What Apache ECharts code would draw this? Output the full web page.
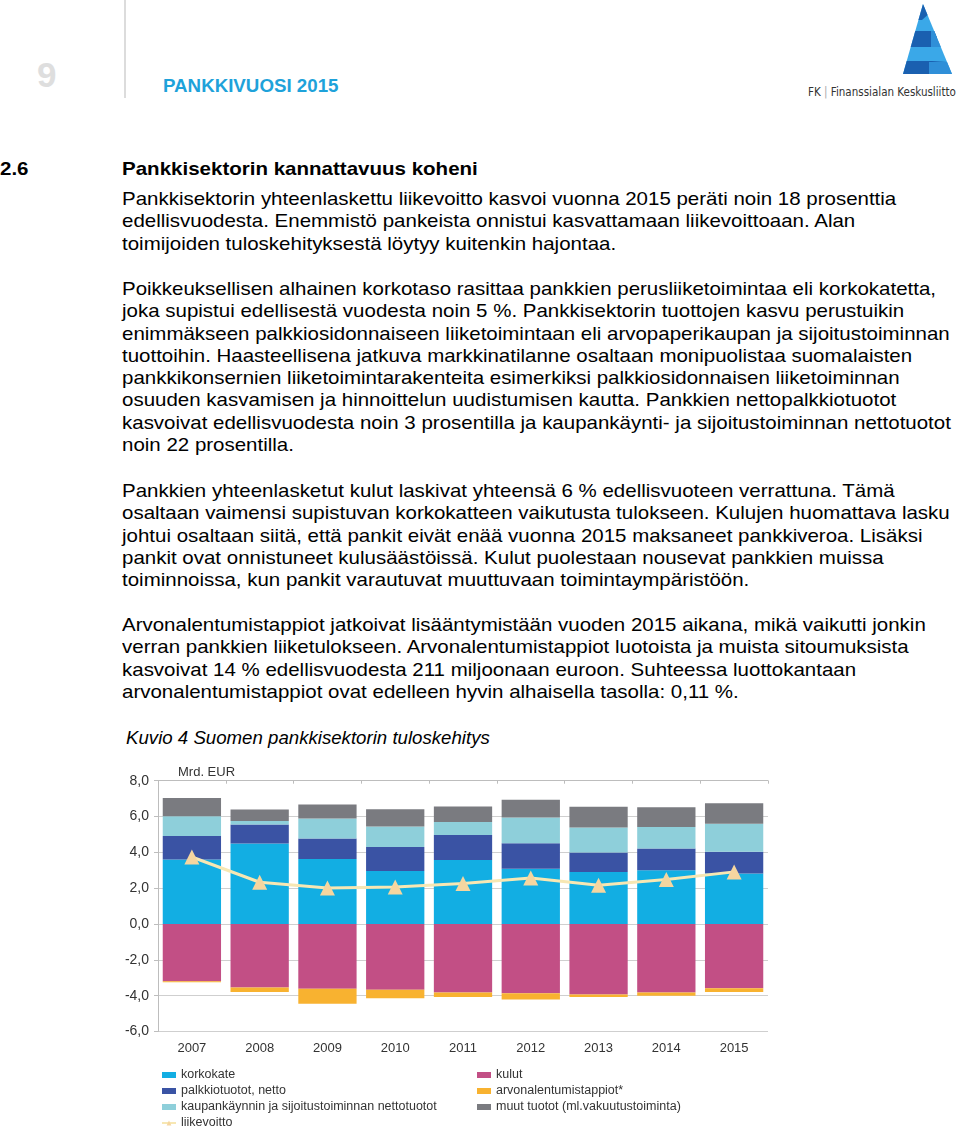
<!DOCTYPE html>
<html>
<head>
<meta charset="utf-8">
<script src="https://cdn.jsdelivr.net/npm/echarts@6/dist/echarts.min.js"></script>
<style>
  html, body { margin: 0; padding: 0; background: #fff; }
  body { width: 960px; height: 1135px; position: relative; overflow: hidden; font-family: "Liberation Sans", Arial, sans-serif; color: #000; }
  .abs { position: absolute; white-space: nowrap; }
  .para { position: absolute; left: 122px; font-size: 19px; line-height: 22.3px; white-space: nowrap; transform: scaleX(1.078); transform-origin: 0 0; }
</style>
</head>
<body>
<div class="abs" style="left:37px; top:55px; font-size:35px; font-weight:bold; color:#dedede;">9</div>
<div class="abs" style="left:124px; top:0; width:2px; height:98px; background:#dcdcdc;"></div>
<div class="abs" style="left:163px; top:76px; font-size:18px; font-weight:bold; color:#1ea2da; transform:scaleX(1.04); transform-origin:0 0;">PANKKIVUOSI 2015</div>
<svg class="abs" style="left:880px; top:0;" width="80" height="80" viewBox="880 0 80 80">
  <defs><clipPath id="tri"><polygon points="923,4 952,74 903,74"/></clipPath></defs>
  <g clip-path="url(#tri)">
    <rect x="880" y="0" width="80" height="80" fill="#3aa8e8"/>
    <polygon points="880,0 923,4 931,12 922,20 880,20" fill="#1a60b0"/>
    <polygon points="880,31 941,31 931,47 880,47" fill="#1a60b0"/>
    <polygon points="880,61 948,61 932,62 929,74 880,74" fill="#1a60b0"/>
    <polygon points="929,62 952,62 952,74 929,74" fill="#2f8fd8"/>
    <polygon points="931,31 945,31 945,47 931,47" fill="#2f8fd8"/>
  </g>
</svg>
<div class="abs" style="left:808px; top:85px; font-size:11.5px; color:#333; font-family:'Liberation Sans Narrow','DejaVu Sans Condensed',sans-serif;">FK<span style="color:#aaa;"> | </span>Finanssialan Keskusliitto</div>

<div class="abs" style="left:0; top:158px; font-size:19px; font-weight:bold; transform:scaleX(1.08); transform-origin:0 0;">2.6</div>
<div class="abs" style="left:122px; top:158px; font-size:19px; font-weight:bold; transform:scaleX(1.08); transform-origin:0 0;">Pankkisektorin kannattavuus koheni</div>

<div class="para" style="top:188px;">Pankkisektorin yhteenlaskettu liikevoitto kasvoi vuonna 2015 peräti noin 18 prosenttia<br>edellisvuodesta. Enemmistö pankeista onnistui kasvattamaan liikevoittoaan. Alan<br>toimijoiden tuloskehityksestä löytyy kuitenkin hajontaa.</div>
<div class="para" style="top:278px;">Poikkeuksellisen alhainen korkotaso rasittaa pankkien perusliiketoimintaa eli korkokatetta,<br>joka supistui edellisestä vuodesta noin 5 %. Pankkisektorin tuottojen kasvu perustuikin<br>enimmäkseen palkkiosidonnaiseen liiketoimintaan eli arvopaperikaupan ja sijoitustoiminnan<br>tuottoihin. Haasteellisena jatkuva markkinatilanne osaltaan monipuolistaa suomalaisten<br>pankkikonsernien liiketoimintarakenteita esimerkiksi palkkiosidonnaisen liiketoiminnan<br>osuuden kasvamisen ja hinnoittelun uudistumisen kautta. Pankkien nettopalkkiotuotot<br>kasvoivat edellisvuodesta noin 3 prosentilla ja kaupankäynti- ja sijoitustoiminnan nettotuotot<br>noin 22 prosentilla.</div>
<div class="para" style="top:480px;">Pankkien yhteenlasketut kulut laskivat yhteensä 6 % edellisvuoteen verrattuna. Tämä<br>osaltaan vaimensi supistuvan korkokatteen vaikutusta tulokseen. Kulujen huomattava lasku<br>johtui osaltaan siitä, että pankit eivät enää vuonna 2015 maksaneet pankkiveroa. Lisäksi<br>pankit ovat onnistuneet kulusäästöissä. Kulut puolestaan nousevat pankkien muissa<br>toiminnoissa, kun pankit varautuvat muuttuvaan toimintaympäristöön.</div>
<div class="para" style="top:614px;">Arvonalentumistappiot jatkoivat lisääntymistään vuoden 2015 aikana, mikä vaikutti jonkin<br>verran pankkien liiketulokseen. Arvonalentumistappiot luotoista ja muista sitoumuksista<br>kasvoivat 14 % edellisvuodesta 211 miljoonaan euroon. Suhteessa luottokantaan<br>arvonalentumistappiot ovat edelleen hyvin alhaisella tasolla: 0,11 %.</div>
<div class="abs" style="left:126px; top:728px; font-size:18px; font-style:italic; transform:scaleX(1.036); transform-origin:0 0;">Kuvio 4 Suomen pankkisektorin tuloskehitys</div>

<div id="chart" style="position:absolute; left:100px; top:755px; width:700px; height:400px;"></div>
<script>
const years = ['2007','2008','2009','2010','2011','2012','2013','2014','2015'];
const korkokate = [3.60, 4.49, 3.63, 2.96, 3.58, 3.09, 2.91, 3.00, 2.82];
const palkkiotuotot = [1.32, 1.06, 1.14, 1.34, 1.39, 1.42, 1.08, 1.21, 1.22];
const kaupankaynti = [1.10, 0.20, 1.12, 1.14, 0.73, 1.43, 1.40, 1.21, 1.55];
const muutTuotot = [1.02, 0.64, 0.78, 0.97, 0.86, 0.99, 1.15, 1.10, 1.15];
const kulut = [-3.20, -3.54, -3.61, -3.67, -3.82, -3.87, -3.93, -3.82, -3.58];
const arvonalentumistappiot = [-0.05, -0.26, -0.84, -0.48, -0.26, -0.34, -0.15, -0.18, -0.22];
const liikevoitto = [3.74, 2.33, 2.01, 2.07, 2.26, 2.57, 2.16, 2.48, 2.91];
const yTicks = { min: -6, max: 8, interval: 2 };

const C = {
  korko: '#12aee3', palkkio: '#3a53a4', kaupan: '#8ecfda', muut: '#7a7b80',
  kulut: '#c24f85', arvon: '#f8b230', line: '#f7e7b3', tri: '#f5d6a0'
};
const chart = echarts.init(document.getElementById('chart'), null, { renderer: 'canvas' });
const lab = { fontFamily: 'Liberation Sans, Arial, sans-serif', fontSize: 13, color: '#333' };
const legText = Object.assign({}, lab, { fontSize: 12.5, lineHeight: 14 });
const bar = (name, data, color) => ({
  name, type: 'bar', stack: 'a', data, itemStyle: { color }, barCategoryGap: '14%'
});
chart.setOption({
  animation: false,
  title: { text: 'Mrd. EUR', left: 78, top: 11, padding: 0, textStyle: Object.assign({}, lab, { fontWeight: 'normal' }) },
  grid: { left: 58, right: 32, top: 25.7, bottom: 123.5, containLabel: false },
  legend: [
    { orient: 'vertical', left: 61, top: 313, padding: 0, height: 80, itemWidth: 14, itemHeight: 6, itemGap: 2, textStyle: legText,
      data: [{ name: 'korkokate', icon: 'rect' }, { name: 'palkkiotuotot, netto', icon: 'rect' },
             { name: 'kaupankäynnin ja sijoitustoiminnan nettotuotot', icon: 'rect' }, { name: 'liikevoitto' }] },
    { orient: 'vertical', left: 377, top: 313, padding: 0, height: 80, itemWidth: 14, itemHeight: 6, itemGap: 2, textStyle: legText,
      data: [{ name: 'kulut', icon: 'rect' }, { name: 'arvonalentumistappiot*', icon: 'rect' },
             { name: 'muut tuotot (ml.vakuutustoiminta)', icon: 'rect' }] }
  ],
  xAxis: [
    { type: 'category', data: years, position: 'bottom', axisLine: { show: false }, axisTick: { show: false },
      axisLabel: Object.assign({}, lab, { margin: 10 }) },
    { type: 'category', data: years, position: 'top', axisLine: { onZero: true, lineStyle: { color: '#bdbdbd' } },
      axisTick: { show: true, inside: true, length: 3, lineStyle: { color: '#bdbdbd' } }, axisLabel: { show: false } }
  ],
  yAxis: {
    type: 'value', min: yTicks.min, max: yTicks.max, interval: yTicks.interval,
    axisLine: { show: true, lineStyle: { color: '#bdbdbd' } },
    axisTick: { show: true, length: 4, lineStyle: { color: '#bdbdbd' } },
    splitLine: { lineStyle: { color: '#cfcfcf' } },
    axisLabel: Object.assign({}, lab, { fontSize: 14, margin: 9, formatter: v => v.toFixed(1).replace('.', ',') })
  },
  series: [
    bar('korkokate', korkokate, C.korko),
    bar('palkkiotuotot, netto', palkkiotuotot, C.palkkio),
    bar('kaupankäynnin ja sijoitustoiminnan nettotuotot', kaupankaynti, C.kaupan),
    bar('muut tuotot (ml.vakuutustoiminta)', muutTuotot, C.muut),
    bar('kulut', kulut, C.kulut),
    bar('arvonalentumistappiot*', arvonalentumistappiot, C.arvon),
    { name: 'liikevoitto', type: 'line', data: liikevoitto, symbol: 'triangle', symbolSize: 15,
      lineStyle: { color: C.line, width: 3 }, itemStyle: { color: C.tri }, z: 5 }
  ]
});
</script>
</body>
</html>
